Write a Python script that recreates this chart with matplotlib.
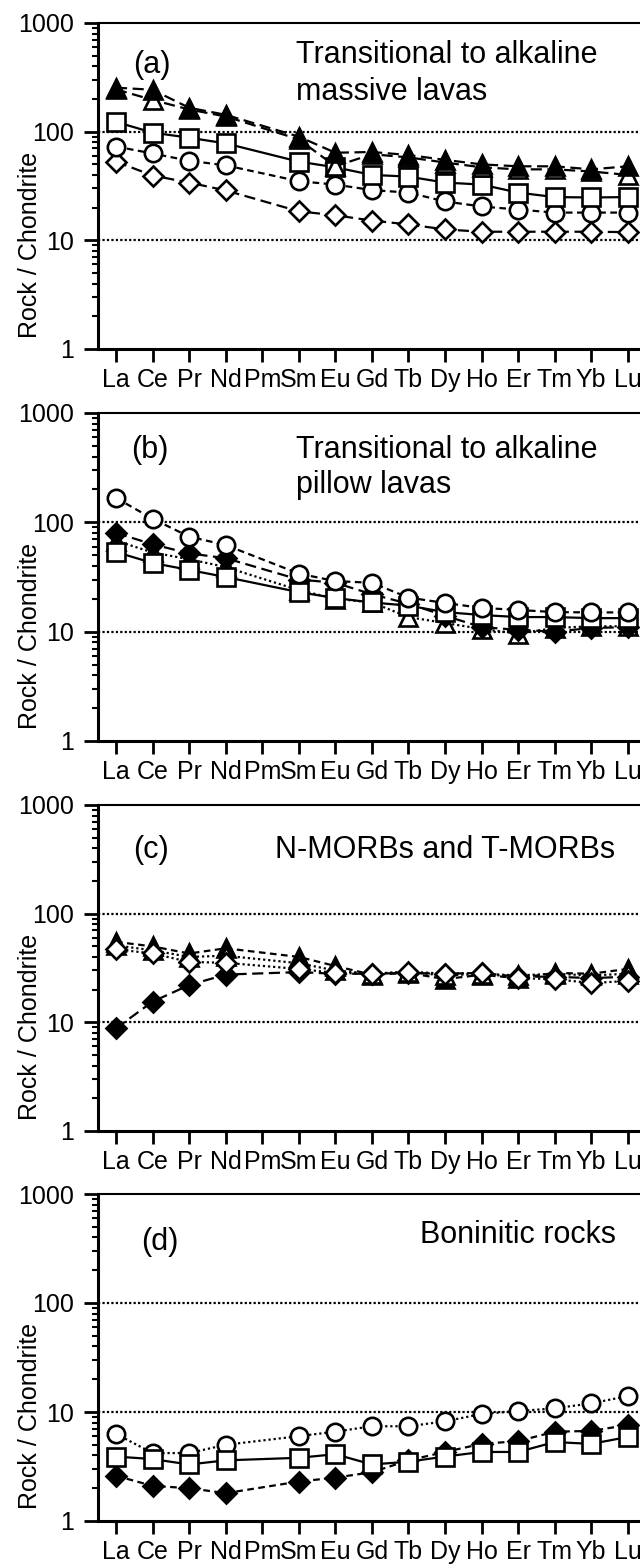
import numpy as np
import matplotlib
matplotlib.use('Agg')
import matplotlib.pyplot as plt
from matplotlib.ticker import LogLocator, NullFormatter

plt.rcParams['font.family'] = 'Liberation Sans'

elements = ['La', 'Ce', 'Pr', 'Nd', 'Pm', 'Sm', 'Eu', 'Gd', 'Tb', 'Dy', 'Ho', 'Er', 'Tm', 'Yb', 'Lu']
ree = ['La', 'Ce', 'Pr', 'Nd', 'Sm', 'Eu', 'Gd', 'Tb', 'Dy', 'Ho', 'Er', 'Tm', 'Yb', 'Lu']  # no Pm data

# (a) transitional to alkaline massive lavas
a_tri_fill = [254, 243, 166, 143, 90, 64, 65, 61, 55, 50, 48, 48, 45, 48]
a_tri_open = [245, 196, 160, 138, 85, 48, 62, 58, 52, 47, 45, 45, 43, 40]
a_square = [123, 98, 88, 78, 53, 47, 40, 38.6, 34, 32.6, 27.5, 25, 24.8, 25]
a_circle = [73, 63, 54, 49, 35, 32.6, 29, 27.5, 22.8, 20.5, 19.2, 18, 18, 18]
a_diamond = [53, 39.5, 34, 28.8, 18.5, 17, 15.2, 14, 12.6, 12, 12, 12, 12, 11.9]

# (b) transitional to alkaline pillow lavas
b_tri_open = [68, 53, 46, 39, 24, 20, 18.5, 13.6, 12, 10.6, 9.6, 10.8, 11.2, 11.2]
b_dia_fill = [80, 63, 52, 47, 30, 28, 22, 18, 14, 11, 10.4, 10, 10.8, 11]
b_square = [53.5, 42.5, 36.7, 31.6, 23, 20.3, 18.5, 17.3, 15.1, 14.2, 13.6, 13.6, 13.3, 13.3]
b_circle = [167, 108, 74, 62, 34, 29, 28, 20.5, 18.3, 16.5, 15.8, 15.1, 15, 15]

# (c) N-MORBs and T-MORBs
c_dia_fill = [8.8, 15.5, 22, 27.5, 29, 28, 28, 28.5, 28, 28.5, 26.3, 26.3, 25.5, 26.3]
c_tri_fill = [55, 50, 43, 48, 40, 33, 27.4, 28.5, 25, 27.4, 25.5, 28.5, 28, 31]
c_tri_open = [51, 46, 40, 41, 35, 30, 28, 29, 27, 28, 27, 28, 27, 28]
c_dia_open = [47, 43, 36, 35.3, 31, 28.5, 28, 29.3, 28, 28.5, 25.5, 25, 23, 24]

# (d) boninitic rocks
d_circle = [6.3, 4.2, 4.2, 5.0, 6.0, 6.6, 7.4, 7.4, 8.2, 9.6, 10.2, 10.8, 12, 14]
d_dia_fill = [2.6, 2.1, 2.0, 1.8, 2.3, 2.5, 2.8, 3.6, 4.3, 5.1, 5.4, 6.6, 6.7, 7.6]
d_square = [3.9, 3.7, 3.3, 3.6, 3.8, 4.1, 3.3, 3.5, 3.9, 4.3, 4.3, 5.3, 5.1, 5.9]

x = np.array([elements.index(e) for e in ree])

W, H = 640, 1566
fig = plt.figure(figsize=(W / 100, H / 100), dpi=100)

# marker styles: (marker, size, facecolor)
TRI_F = ('^', 12.5, 'black')
TRI_O = ('^', 12.5, 'white')
SQ = ('s', 12.5, 'white')
CIR = ('o', 12.5, 'white')
DIA_F = ('D', 10, 'black')
DIA_O = ('D', 10, 'white')

SOLID = '-'
DASH = (0, (5, 2.5))
SDASH = (0, (3, 2))
DOT = (0, (1, 1.3))


def setup(ax):
    ax.set_yscale('log')
    ax.set_ylim(1, 1000)
    ax.set_xlim(-0.492, 14.69)
    ax.set_yticks([1, 10, 100, 1000])
    ax.set_yticklabels(['1', '10', '100', '1000'])
    ax.yaxis.set_minor_locator(LogLocator(base=10, subs=np.arange(2, 10)))
    ax.yaxis.set_minor_formatter(NullFormatter())
    ax.set_xticks(range(len(elements)))
    ax.set_xticklabels(elements)
    ax.tick_params(axis='y', which='major', direction='out', length=10, width=2, labelsize=18, pad=7)
    ax.tick_params(axis='y', which='minor', direction='out', length=4.5, width=1.5)
    ax.tick_params(axis='x', direction='out', length=9, width=2, labelsize=18, pad=5)
    ax.spines['right'].set_visible(False)
    ax.spines['top'].set_linewidth(1.5)
    ax.spines['left'].set_linewidth(2.2)
    ax.spines['bottom'].set_linewidth(2.2)
    for v in [10, 100]:
        ax.axhline(v, color='black', lw=1.6, ls=(0, (1, 1)), zorder=1)
    ax.set_ylabel('Rock / Chondrite', fontsize=18)
    ax.yaxis.set_label_coords(-0.10, 0.32)


def series(ax, vals, style, ls):
    m, ms, fc = style
    ax.plot(x, vals, color='black', lw=1.6, ls=ls, marker=m, ms=ms, mfc=fc,
            mec='black', mew=1.9, zorder=3)


panels = [(23, 349), (413, 741), (805, 1131), (1194, 1521)]
axes = []
for top, bot in panels:
    ax = fig.add_axes([98 / W, 1 - bot / H, 555 / W, (bot - top) / H])
    setup(ax)
    axes.append(ax)

# (a)
ax = axes[0]
series(ax, a_diamond, DIA_O, DASH)
series(ax, a_circle, CIR, SDASH)
series(ax, a_square, SQ, SOLID)
series(ax, a_tri_open, TRI_O, DASH)
series(ax, a_tri_fill, TRI_F, DASH)
ax.text(0.097, 0.872, '(a)', transform=ax.transAxes, fontsize=22, ha='center', va='center')
ax.text(0.356, 0.902, 'Transitional to alkaline', transform=ax.transAxes, fontsize=22, ha='left', va='center')
ax.text(0.356, 0.789, 'massive lavas', transform=ax.transAxes, fontsize=22, ha='left', va='center')

# (b)
ax = axes[1]
series(ax, b_tri_open, TRI_O, DOT)
series(ax, b_dia_fill, DIA_F, DASH)
series(ax, b_square, SQ, SOLID)
series(ax, b_circle, CIR, SDASH)
ax.text(0.094, 0.887, '(b)', transform=ax.transAxes, fontsize=22, ha='center', va='center')
ax.text(0.356, 0.887, 'Transitional to alkaline', transform=ax.transAxes, fontsize=22, ha='left', va='center')
ax.text(0.356, 0.780, 'pillow lavas', transform=ax.transAxes, fontsize=22, ha='left', va='center')

# (c)
ax = axes[2]
series(ax, c_dia_fill, DIA_F, DASH)
series(ax, c_tri_fill, TRI_F, SDASH)
series(ax, c_tri_open, TRI_O, DOT)
series(ax, c_dia_open, DIA_O, DOT)
ax.text(0.096, 0.862, '(c)', transform=ax.transAxes, fontsize=22, ha='center', va='center')
ax.text(0.932, 0.862, 'N-MORBs and T-MORBs', transform=ax.transAxes, fontsize=22, ha='right', va='center')

# (d)
ax = axes[3]
series(ax, d_circle, CIR, DOT)
series(ax, d_dia_fill, DIA_F, SDASH)
series(ax, d_square, SQ, SOLID)
ax.text(0.112, 0.853, '(d)', transform=ax.transAxes, fontsize=22, ha='center', va='center')
ax.text(0.933, 0.875, 'Boninitic rocks', transform=ax.transAxes, fontsize=22, ha='right', va='center')

fig.savefig('out.png', dpi=100)
